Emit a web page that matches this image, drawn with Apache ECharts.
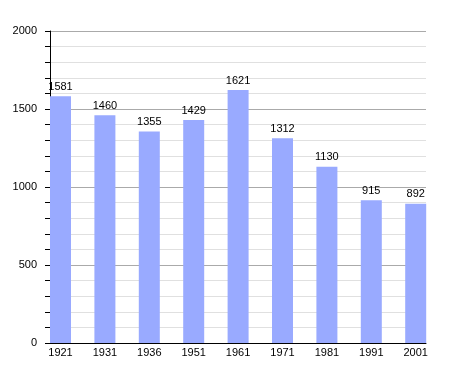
<!DOCTYPE html>
<html><head><meta charset="utf-8">
<script src="https://cdn.jsdelivr.net/npm/echarts@6/dist/echarts.min.js"></script>
<style>html,body{margin:0;padding:0;background:#fff}#c{width:455px;height:373px}</style>
</head><body><div id="c"></div>
<script>
var categories = ['1921','1931','1936','1951','1961','1971','1981','1991','2001'];
var population = [1581,1460,1355,1429,1621,1312,1130,915,892];
var yTicks = [0,500,1000,1500,2000];

var chart = echarts.init(document.getElementById('c'), null, {renderer:'canvas'});
var font = 'Liberation Sans, Arial, sans-serif';
chart.setOption({
  animation:false,
  backgroundColor:'#fff',
  grid:[
    {left:50, right:29, top:31, bottom:30},
    {left:60.5, right:39.3, top:31, bottom:30}
  ],
  xAxis:[
    {gridIndex:0, type:'value', min:0, max:1, axisLine:{show:true,lineStyle:{color:'#000',width:1}},
     axisTick:{show:false}, axisLabel:{show:false}, splitLine:{show:false}},
    {gridIndex:1, type:'category', data:categories, boundaryGap:false,
     axisLine:{show:false}, axisTick:{show:false},
     axisLabel:{color:'#000', fontSize:11, fontFamily:font, margin:4, interval:0}}
  ],
  yAxis:[
    {gridIndex:0, type:'value', min:yTicks[0], max:yTicks[yTicks.length-1], interval:500,
     axisLine:{show:true,lineStyle:{color:'#000',width:1}},
     axisTick:{show:true,inside:false,length:5,lineStyle:{color:'#000'}},
     minorTick:{show:true,splitNumber:5,length:5,lineStyle:{color:'#000'}},
     axisLabel:{color:'#000', fontSize:11, fontFamily:font, margin:13, formatter:function(v){return String(v);}},
     splitLine:{show:true,lineStyle:{color:'#aaaaaa',width:1}},
     minorSplitLine:{show:true,lineStyle:{color:'#e0e0e0',width:1}}},
    {gridIndex:1, type:'value', min:0, max:2000, show:false}
  ],
  series:[{
    type:'bar', xAxisIndex:1, yAxisIndex:1, data:population, barWidth:21,
    itemStyle:{color:'#99aaff'},
    label:{show:true, position:'top', distance:4, color:'#000', fontSize:11, fontFamily:font}
  }]
});
</script></body></html>
